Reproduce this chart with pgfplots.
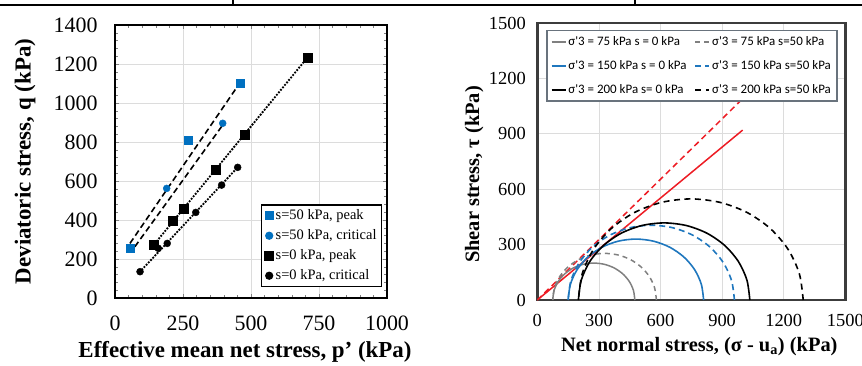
\documentclass[border=0pt]{standalone}
\usepackage{pgfplots}
\pgfplotsset{compat=1.18}
\usepackage{fontspec}
\setmainfont{Liberation Serif}
\newfontfamily\calfont{Carlito}
\definecolor{xblue}{RGB}{0,112,192}
\definecolor{lblue}{RGB}{31,119,190}
\definecolor{xgray}{RGB}{128,128,128}
\definecolor{gridc}{RGB}{220,220,220}
\definecolor{framec}{RGB}{60,60,60}
\definecolor{legc}{RGB}{105,115,125}
\definecolor{xred}{RGB}{237,28,36}

\begin{document}
\begin{tikzpicture}[x=1bp,y=1bp]
\useasboundingbox (0,0) rectangle (862,365);
\draw[line width=2bp] (0,360) -- (862,360);
\draw[line width=1.5bp] (233,365) -- (233,360);
\draw[line width=1.5bp] (635,365) -- (635,360);

% ---------------- left panel ----------------
\begin{axis}[
  at={(115bp,67bp)}, anchor=south west, scale only axis,
  width=272bp, height=273bp,
  xmin=0, xmax=1000, ymin=0, ymax=1400,
  xtick={0,250,...,1000}, ytick={0,200,...,1400},
  minor x tick num=4, minor y tick num=4,
  grid=major, major grid style={gridc, line width=0.8bp},
  axis line style={black, line width=1.6bp},
  tick style={xgray, line width=0.5bp}, tick align=inside,
  major tick length=4bp, minor tick length=3bp,
  /pgf/number format/assume math mode=true,
  /pgf/number format/1000 sep={}, scaled ticks=false,
  tick label style={font=\fontsize{22}{22}\selectfont},
  yticklabel style={xshift=-14bp},
  xticklabel style={yshift=-14bp},
  every axis y label/.style={at={(rel axis cs:0,0.5)}, anchor=center, xshift=-90bp, rotate=90},
  every axis x label/.style={at={(rel axis cs:0.5,0)}, anchor=base, xshift=-6bp, yshift=-59bp},
  label style={font=\fontsize{23}{23}\selectfont\bfseries},
  xlabel={Effective mean net stress, p’ (kPa)},
  ylabel={Deviatoric stress, q (kPa)},
  legend style={at={(0.982,0.04)}, anchor=south east, draw=black, line width=1.2bp,
    font=\fontsize{14.5}{15}\selectfont, row sep=4.5bp, inner sep=3bp},
  legend cell align=left,
]
% trend lines
\addplot[forget plot, black, line width=1.6bp, dash pattern=on 6bp off 3.5bp] coordinates {(55,280) (460,1105)};
\addplot[forget plot, black, line width=1.6bp, dash pattern=on 6bp off 3.5bp] coordinates {(73,263) (396,887)};
\addplot[forget plot, black, line width=2.6bp, line cap=round, dash pattern=on 0bp off 3.2bp] coordinates {(140,268) (708,1234)};
\addplot[forget plot, black, line width=2.6bp, line cap=round, dash pattern=on 0bp off 3.2bp] coordinates {(92,135) (451,670)};
% markers
\addplot[only marks, mark=square*, mark size=4bp, color=xblue, mark options={draw=xblue, fill=xblue}]
  coordinates {(55,256) (270,810) (462,1100)};
\addlegendentry{s=50 kPa, peak}
\addplot[only marks, mark=*, mark size=3.5bp, color=xblue, mark options={draw=xblue, fill=xblue}]
  coordinates {(55,250) (190,562) (396,896)};
\addlegendentry{s=50 kPa, critical}
\addplot[only marks, mark=square*, mark size=4.5bp, color=black]
  coordinates {(141,275) (211,396) (254,460) (371,660) (478,836) (708,1234)};
\addlegendentry{s=0 kPa, peak}
\addplot[only marks, mark=*, mark size=3.5bp, color=black]
  coordinates {(92,135) (159,255) (192,280) (297,439) (392,579) (451,670)};
\addlegendentry{s=0 kPa, critical}
\end{axis}

% ---------------- right panel ----------------
\begin{axis}[
  at={(537.3bp,65bp)}, anchor=south west, scale only axis,
  width=308bp, height=277bp,
  xmin=0, xmax=1500, ymin=0, ymax=1500,
  xtick={0,300,...,1500}, ytick={0,300,...,1500},
  grid=major, major grid style={gridc, line width=0.8bp},
  axis line style={framec, line width=2.5bp},
  major tick length=0bp,
  /pgf/number format/assume math mode=true,
  /pgf/number format/1000 sep={}, scaled ticks=false,
  tick label style={font=\fontsize{18.5}{18.5}\selectfont},
  yticklabel style={xshift=-8bp},
  xticklabel style={yshift=-11bp},
  every axis y label/.style={at={(rel axis cs:0,0.5)}, anchor=center, xshift=-63bp, yshift=-13bp, rotate=90},
  every axis x label/.style={at={(rel axis cs:0.5,0)}, anchor=base, xshift=8bp, yshift=-51.7bp},
  label style={font=\fontsize{20.5}{20.5}\selectfont\bfseries},
  xlabel={Net normal stress, (σ - u\textsubscript{a}) (kPa)},
  ylabel={Shear stress, τ (kPa)},
  legend columns=2,
  legend style={at={(0.029,0.975)}, anchor=north west, draw=legc, line width=1.3bp,
    font=\calfont\fontsize{13}{13}\selectfont, row sep=9.5bp, inner sep=4bp,
    /tikz/every even column/.append style={column sep=6bp}},
  legend cell align=left,
  legend image code/.code={\draw[#1] (0bp,0bp) -- (14bp,0bp);},
]
\addplot[forget plot, xred, line width=1.5bp] coordinates {(0,0) (1000,920)};
\addplot[forget plot, xred, line width=1.5bp, dash pattern=on 6bp off 4bp] coordinates {(0,0) (1000,1090)};

\addplot[xgray, line width=1.5bp, smooth] coordinates {(475,0) (468.2,51.8) (448.2,100) (416.4,141.4) (375,173.2) (326.8,193.2) (275,200) (223.2,193.2) (175,173.2) (133.6,141.4) (101.8,100) (81.8,51.8) (75,0)};
\addlegendentry{σ\textquotesingle 3 = 75 kPa s = 0 kPa}
\addplot[xgray, line width=1.5bp, smooth, dash pattern=on 5bp off 4bp] coordinates {(580,0) (571.4,65.3) (546.2,126.3) (506,178.5) (453.8,218.7) (392.8,243.9) (327.5,252.5) (262.2,243.9) (201.2,218.7) (149,178.5) (108.8,126.3) (83.6,65.3) (75,0)};
\addlegendentry{σ\textquotesingle 3 = 75 kPa s=50 kPa}
\addplot[lblue, line width=1.6bp, smooth] coordinates {(810,0) (798.7,85.4) (765.8,165) (713.3,233.3) (645,285.8) (565.4,318.7) (480,330) (394.6,318.7) (315,285.8) (246.7,233.3) (194.2,165) (161.3,85.4) (150,0)};
\addlegendentry{σ\textquotesingle 3 = 150 kPa s = 0 kPa}
\addplot[lblue, line width=1.6bp, smooth, dash pattern=on 6bp off 4bp] coordinates {(960,0) (946.2,104.8) (905.7,202.5) (841.4,286.4) (757.5,350.7) (659.8,391.2) (555,405) (450.2,391.2) (352.5,350.7) (268.6,286.4) (204.3,202.5) (163.8,104.8) (150,0)};
\addlegendentry{σ\textquotesingle 3 = 150 kPa s=50 kPa}
\addplot[black, line width=1.6bp, smooth] coordinates {(1035,0) (1020.8,108.1) (979.1,208.8) (912.7,295.2) (826.3,361.6) (725.6,403.3) (617.5,417.5) (509.4,403.3) (408.7,361.6) (322.3,295.2) (255.9,208.8) (214.2,108.1) (200,0)};
\addlegendentry{σ\textquotesingle 3 = 200 kPa s= 0 kPa}
\addplot[black, line width=1.6bp, smooth, dash pattern=on 6bp off 4.5bp] coordinates {(1295,0) (1276.3,141.7) (1221.6,273.8) (1134.6,387.1) (1021.3,474.1) (889.2,528.8) (747.5,547.5) (605.8,528.8) (473.7,474.1) (360.4,387.1) (273.4,273.8) (218.7,141.7) (200,0)};
\addlegendentry{σ\textquotesingle 3 = 200 kPa s=50 kPa}
\end{axis}
\end{tikzpicture}
\end{document}
